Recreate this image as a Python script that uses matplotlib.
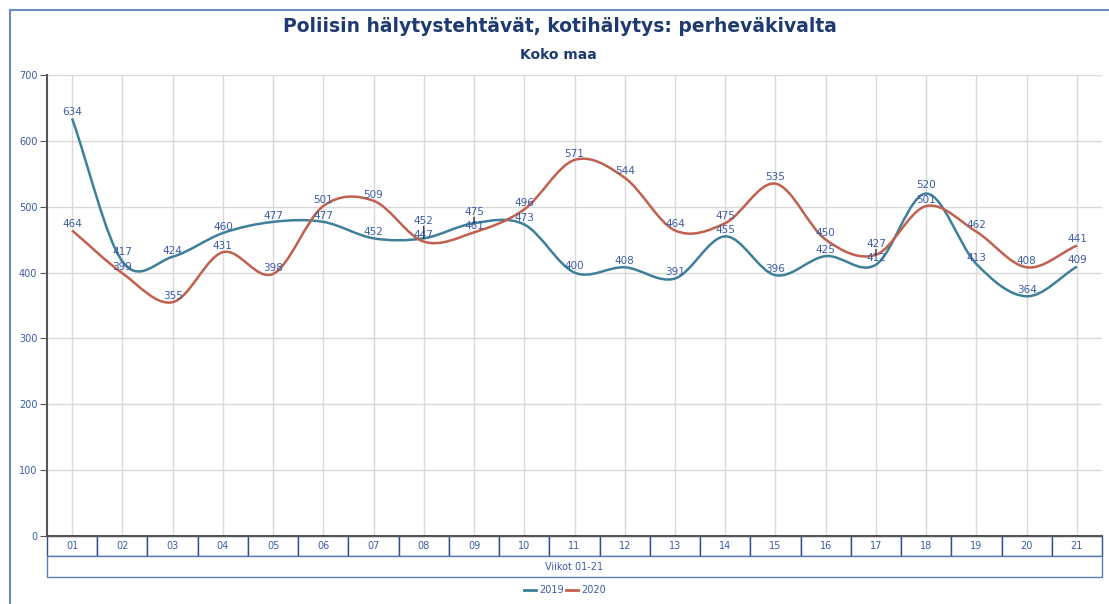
import matplotlib.pyplot as plt
import numpy as np
from matplotlib.path import Path
from matplotlib.patches import PathPatch
from matplotlib.lines import Line2D

weeks = ["01", "02", "03", "04", "05", "06", "07", "08", "09", "10", "11",
         "12", "13", "14", "15", "16", "17", "18", "19", "20", "21"]
values_2019 = [634, 417, 424, 460, 477, 477, 452, 452, 475, 473, 400,
               408, 391, 455, 396, 425, 412, 520, 413, 364, 409]
values_2020 = [464, 399, 355, 431, 398, 501, 509, 447, 461, 496, 571,
               544, 464, 475, 535, 450, 427, 501, 462, 408, 441]

col_2019 = "#3E7F9A"
col_2020 = "#C0604D"
label_col = "#3A5CA8"


def smooth_path(xs, ys):
    # cubic bezier through the points, cardinal style tangents
    xs = np.asarray(xs, float)
    ys = np.asarray(ys, float)
    n = len(xs)
    m = np.zeros(n)
    m[0] = (ys[1] - ys[0]) / (xs[1] - xs[0])
    m[-1] = (ys[-1] - ys[-2]) / (xs[-1] - xs[-2])
    for i in range(1, n - 1):
        m[i] = (ys[i + 1] - ys[i - 1]) / (xs[i + 1] - xs[i - 1])
    verts = [(xs[0], ys[0])]
    codes = [Path.MOVETO]
    for i in range(n - 1):
        dx = xs[i + 1] - xs[i]
        verts.append((xs[i] + dx / 3, ys[i] + m[i] * dx / 3))
        verts.append((xs[i + 1] - dx / 3, ys[i + 1] - m[i + 1] * dx / 3))
        verts.append((xs[i + 1], ys[i + 1]))
        codes += [Path.CURVE4] * 3
    return Path(verts, codes)


fig = plt.figure(figsize=(11.09, 6.04), dpi=100)
ax = fig.add_axes([47 / 1109, 1 - 536 / 604, (1102 - 47) / 1109, (536 - 75) / 604])

x = np.arange(len(weeks))
for vals, col in [(values_2019, col_2019), (values_2020, col_2020)]:
    ax.add_patch(PathPatch(smooth_path(x, vals), facecolor="none",
                           edgecolor=col, lw=1.8, zorder=3))

# value labels above the points, the upper one pushed up when they collide
pt_per_unit = (461 / 700) / (100 / 72)
base = 4.5
gap = 10.5
for xi, a, b in zip(x, values_2019, values_2020):
    hi, lo = (a, b) if a >= b else (b, a)
    sep = (hi - lo) * pt_per_unit
    off_hi = max(base, base + gap - sep)
    for v, off in [(lo, base), (hi, off_hi)]:
        ax.annotate(str(v), (xi, v), xytext=(0, off), textcoords="offset points",
                    ha="center", va="center", fontsize=7.5, color=label_col, zorder=4)
        if off > base + 2:
            ax.annotate("", (xi, v), xytext=(0, off - 4), textcoords="offset points",
                        arrowprops=dict(arrowstyle="-", color="black", lw=0.8,
                                        shrinkA=0, shrinkB=0))

ax.set_xlim(-0.5, len(weeks) - 0.5)
ax.set_ylim(0, 700)
ax.set_yticks(range(0, 701, 100))
ax.set_xticks(x)
ax.set_xticklabels([])
ax.tick_params(axis="x", length=0)
ax.tick_params(axis="y", length=5, color="#555555", labelsize=7, labelcolor=label_col, pad=2)
ax.grid(True, color="#D9D9D9", lw=1)
ax.set_axisbelow(True)
for s in ["top", "right"]:
    ax.spines[s].set_visible(False)
ax.spines["left"].set_color("#555555")
ax.spines["left"].set_linewidth(1.5)
ax.spines["bottom"].set_color("#555555")
ax.spines["bottom"].set_linewidth(1.5)

# week table under the plot
h1 = 20 / 461
h2 = 21 / 461
tb = ax.table(cellText=[weeks], cellLoc="center", bbox=[0, -h1, 1, h1])
tb.auto_set_font_size(False)
for cell in tb.get_celld().values():
    cell.set_edgecolor("#2F4F8A")
    cell.set_linewidth(1)
    cell.get_text().set_fontsize(7)
    cell.get_text().set_color(label_col)
tb2 = ax.table(cellText=[["Viikot 01-21"]], cellLoc="center", bbox=[0, -h1 - h2, 1, h2])
tb2.auto_set_font_size(False)
for cell in tb2.get_celld().values():
    cell.set_edgecolor("#5A7DBA")
    cell.set_linewidth(1)
    cell.get_text().set_fontsize(7)
    cell.get_text().set_color(label_col)

fig.text(560 / 1109, 1 - 26 / 604, "Poliisin hälytystehtävät, kotihälytys: perheväkivalta",
         ha="center", va="center", fontsize=13.5, fontweight="bold", color="#1F3A70")
fig.text(558 / 1109, 1 - 55 / 604, "Koko maa", ha="center", va="center",
         fontsize=10, fontweight="bold", color="#1F3A70")

handles = [Line2D([], [], color=col_2019, lw=2), Line2D([], [], color=col_2020, lw=2)]
leg = fig.legend(handles, ["2019", "2020"], loc="center", bbox_to_anchor=(565 / 1109, 1 - 590 / 604),
                 ncol=2, frameon=False, fontsize=7, handlelength=1.2, handletextpad=0.3,
                 columnspacing=0.3)
for t in leg.get_texts():
    t.set_color(label_col)

# outer frame
fig.add_artist(Line2D([10 / 1109, 10 / 1109], [0, 1 - 10 / 604], color="#6A8CC4", lw=1.5))
fig.add_artist(Line2D([10 / 1109, 1], [1 - 10 / 604, 1 - 10 / 604], color="#6A8CC4", lw=1.5))

fig.savefig("out.png", dpi=100)
